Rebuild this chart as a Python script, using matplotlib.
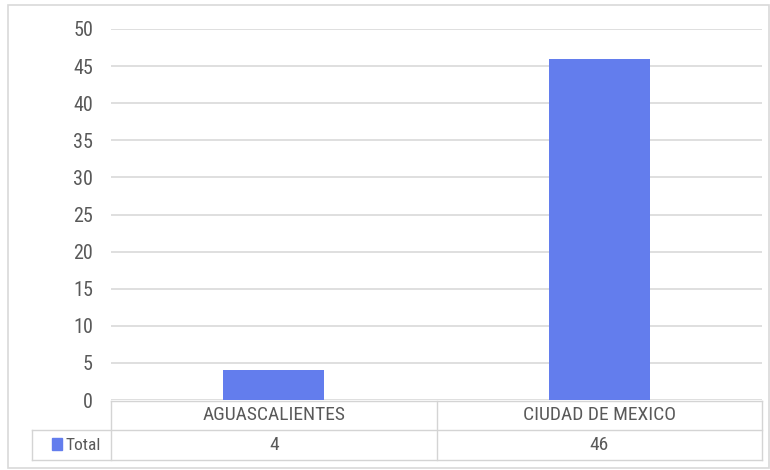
import matplotlib
matplotlib.use("Agg")
import matplotlib.pyplot as plt
from matplotlib.patches import Rectangle
from matplotlib.lines import Line2D

categories = ["AGUASCALIENTES", "CIUDAD DE MEXICO"]
totals = [4, 46]
series_name = "Total"
yticks = [0, 5, 10, 15, 20, 25, 30, 35, 40, 45, 50]

BAR = "#637ded"
GRID = "#d9d9d9"
TXT = "#595959"
FONT = ["Roboto Condensed", "DejaVu Sans"]
plt.rcParams["font.family"] = FONT

W, H = 770, 470
fig = plt.figure(figsize=(W / 100, H / 100), dpi=100)

def fx(px):
    return px / W

def fy(py):
    return 1 - py / H

# outer border
fig.patches.append(Rectangle((fx(8), fy(468)), fx(769) - fx(8), fy(5) - fy(468),
                             transform=fig.transFigure, fill=False,
                             edgecolor="#d9d9d9", linewidth=1.2))

ax_l, ax_r, ax_t, ax_b = 111, 762, 29, 400
ax = fig.add_axes([fx(ax_l), fy(ax_b), fx(ax_r) - fx(ax_l), fy(ax_t) - fy(ax_b)])
n = len(categories)
xs = list(range(n))
ax.bar(xs, totals, width=0.31, color=BAR, zorder=3)
ax.set_xlim(-0.5, n - 0.5)
ax.set_ylim(0, 50)
ax.set_yticks(yticks)
ax.set_yticklabels([str(t) for t in yticks], fontsize=14.5, color=TXT)
ax.tick_params(axis="y", length=0, pad=13)
ax.set_xticks([])
ax.grid(axis="y", color=GRID, linewidth=1.2, zorder=0)
for s in ax.spines.values():
    s.set_visible(False)

# data table below
col_edges = [ax_l + (ax_r - ax_l) * i / n for i in range(n + 1)]
row_top, row_mid, row_bot = 401, 430, 460
leg_l = 32
lc = "#d4d4d4"
lw = 1.0

def hline(x0, x1, y):
    fig.add_artist(Line2D([fx(x0), fx(x1)], [fy(y), fy(y)], color=lc, lw=lw))

def vline(x, y0, y1):
    fig.add_artist(Line2D([fx(x), fx(x)], [fy(y0), fy(y1)], color=lc, lw=lw))

hline(ax_l, ax_r, row_top)
hline(leg_l, ax_r, row_mid)
hline(leg_l, ax_r, row_bot)
vline(leg_l, row_mid, row_bot)
for x in col_edges:
    vline(x, row_top, row_bot)

for i, (c, v) in enumerate(zip(categories, totals)):
    cx = (col_edges[i] + col_edges[i + 1]) / 2
    fig.text(fx(cx), fy((row_top + row_mid) / 2), c, ha="center", va="center",
             fontsize=14, color=TXT)
    fig.text(fx(cx), fy((row_mid + row_bot) / 2), str(v), ha="center", va="center",
             fontsize=14, color=TXT)

fig.patches.append(Rectangle((fx(52), fy(450)), fx(62) - fx(52), fy(438) - fy(450),
                             transform=fig.transFigure, color=BAR))
fig.text(fx(65), fy((row_mid + row_bot) / 2), series_name, ha="left", va="center",
         fontsize=12.5, color=TXT)

fig.savefig("out.png", dpi=100)
